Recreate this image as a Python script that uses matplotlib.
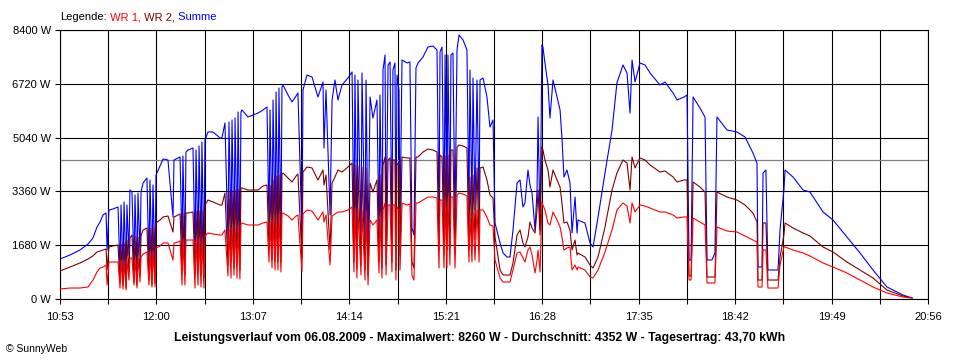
import matplotlib
matplotlib.use("Agg")
import matplotlib.pyplot as plt
from matplotlib.ticker import FixedLocator, FuncFormatter

plt.rcParams['font.family'] = ['Liberation Sans', 'DejaVu Sans']

# Zeit in Minuten nach 10:53 (Messzeitpunkte)
minuten = [
    0, 6.9, 13.9, 19.5, 22.9, 25.7, 27.8, 29.9, 32.0, 32.7, 34.0, 36.8, 40.3, 41.7, 42.4, 43.8,
    44.5, 45.9, 46.5, 47.9, 48.6, 50.0, 51.4, 52.1, 53.5, 54.2, 55.6, 56.3, 57.7, 60.4, 61.8, 62.5,
    63.9, 64.6, 66.0, 66.7, 69.5, 71.6, 75.0, 78.5, 79.2, 82.0, 83.4, 84.8, 85.4, 86.8, 87.5, 88.9,
    92.4, 93.8, 94.5, 95.9, 96.6, 98.0, 98.6, 100.0, 100.7, 102.8, 106.3, 111.2, 112.5, 114.6, 116.7,
    117.4, 118.8, 119.5, 120.9, 121.6, 123.0, 123.7, 125.0, 125.7, 126.4, 130.6, 134.1, 137.6, 141.0,
    143.8, 145.2, 145.9, 147.3, 148.0, 149.4, 150.1, 151.4, 152.1, 153.5, 154.2, 154.9, 158.4, 161.2,
    164.0, 165.3, 168.1, 168.8, 171.6, 175.1, 179.2, 182.7, 183.4, 184.8, 187.6, 189.0, 191.0, 193.1,
    195.9, 200.1, 202.9, 204.2, 204.9, 206.3, 207.0, 209.1, 209.8, 211.9, 212.6, 214.0, 215.4, 217.4,
    220.2, 221.6, 222.3, 223.7, 224.4, 225.8, 226.5, 227.9, 229.3, 230.6, 231.3, 232.7, 233.4, 234.1,
    235.5, 236.2, 237.6, 241.1, 243.1, 244.5, 245.9, 247.3, 248.7, 252.2, 255.6, 259.1, 261.9, 263.3,
    264.0, 265.4, 266.8, 267.5, 268.8, 269.5, 270.9, 271.6, 273.0, 274.4, 275.8, 277.2, 280.0, 282.7,
    284.1, 284.8, 286.2, 286.9, 288.3, 289.7, 291.1, 291.8, 293.9, 296.6, 298.7, 300.8, 302.2, 305.7,
    307.8, 310.5, 312.6, 314.7, 317.5, 319.6, 321.6, 323.0, 325.1, 326.5, 327.9, 330.0, 331.4, 332.1,
    333.5, 334.8, 335.5, 336.9, 339.0, 340.4, 342.5, 345.3, 347.4, 348.7, 350.1, 352.2, 354.3, 355.7,
    357.8, 359.2, 359.8, 364.7, 368.2, 370.3, 373.8, 378.6, 383.5, 386.9, 391.1, 393.9, 396.0, 397.4,
    399.5, 402.9, 406.4, 409.9, 416.8, 420.3, 425.9, 428.7, 433.5, 435.6, 437.0, 438.4, 439.8, 444.6,
    448.1, 449.5, 452.9, 455.0, 456.4, 463.4, 470.3, 475.9, 481.4, 484.2, 484.9, 487.7, 488.4, 490.4,
    491.8, 498.8, 500.2, 502.9, 503.7, 509.2, 516.2, 521.0, 530.1, 537.0, 546.7, 555.8, 564.8, 574.5,
    585.6, 591.9,
]

# Summe (W)
summe = [
    1249, 1374, 1530, 1717, 1905, 2248, 2404, 2623, 2685, 1530, 2779, 2810, 2873, 843, 2935, 906,
    3029, 812, 2935, 1374, 3404, 3341, 906, 3248, 812, 3310, 1374, 3341, 3622, 3778, 1062, 3716,
    906, 3560, 968, 3872, 4153, 4372, 4341, 2561, 4341, 4403, 4434, 1530, 4465, 1374, 4590, 4653,
    4715, 1374, 4653, 1530, 4778, 1374, 4903, 1155, 4965, 5215, 5215, 5028, 5028, 5496, 1842,
    5527, 1999, 5590, 1530, 5652, 1842, 5839, 1686, 5839, 5902, 5683, 5746, 5808, 5902,
    5996, 2311, 5902, 1999, 6214, 2155, 6464, 1842, 6589, 1999, 6620, 6683, 6370, 6152,
    6339, 6433, 2092, 6526, 6995, 6932, 6308, 6776, 4715, 6526, 2623, 6214, 6839, 6214,
    6683, 6901, 7089, 1842, 6995, 1686, 6839, 1842, 7057, 1686, 6839, 1530, 6308, 5652,
    6214, 1999, 6370, 1842, 7151, 7619, 1842, 7307, 7401, 1999, 7151, 7370, 1686, 6995,
    6526, 2311, 7463, 7370, 7401, 2217, 1999, 7213, 7370, 7557, 7869, 7900, 7776, 2404,
    7713, 7869, 2311, 7619, 2467, 7619, 2623, 7619, 7682, 2467, 7776, 8244, 8088, 7776,
    2779, 7151, 2623, 6901, 2779, 6839, 2623, 6839, 6901, 6308, 5371, 5590, 2373, 1749,
    1436, 1312, 1312, 2155, 3622, 3716, 2873, 2998, 4028, 3560, 3310, 2155, 3404, 5683,
    2155, 7932, 7869, 7370, 6683, 5652, 6839, 6308, 5902, 5028, 3810, 4028, 3622, 2061,
    3185, 2061, 2467, 2373, 1749, 1624, 2561, 3935, 5277, 6745, 7307, 7057, 5808, 7463,
    6776, 7370, 7307, 7057, 6683, 6776, 6433, 6214, 6308, 6370, 1218, 1218, 6308, 5964,
    5683, 1218, 1218, 1436, 5683, 5277, 5215, 5059, 4559, 4247, 999, 999, 3935, 4028,
    906, 906, 2155, 3404, 4028, 3810, 3404, 3341, 2717, 2467, 1936, 1436, 906, 375,
    125, 31,
]

# WR 2 (W)
wr2 = [
    874, 999, 1124, 1249, 1343, 1468, 1499, 1530, 1561, 906, 1624, 1655, 1686, 500, 1717, 437,
    1749, 343, 1842, 843, 1905, 1999, 531, 1967, 437, 1936, 749, 1967, 2155, 2217, 593, 2217,
    437, 2248, 500, 2373, 2467, 2561, 2592, 2092, 2561, 2623, 2654, 906, 2685, 749, 2685, 2685,
    2717, 749, 2748, 843, 2748, 749, 2779, 656, 2935, 3091, 3029, 2935, 2935, 3310, 1062,
    3341, 1218, 3373, 968, 3404, 1155, 3435, 906, 3466, 3466, 3404, 3404, 3404, 3529,
    3560, 1530, 3560, 1218, 3716, 1155, 3841, 1155, 3872, 1155, 3903, 3935, 3778, 3654,
    3841, 3903, 1280, 3966, 4122, 4091, 3716, 4028, 3560, 3872, 1530, 3622, 3810, 4028,
    3966, 4122, 4247, 1155, 4184, 968, 4153, 1062, 4122, 906, 4091, 749, 3622, 3341,
    3716, 1155, 3872, 968, 4184, 4434, 1062, 4341, 4403, 1155, 4341, 4341, 906, 4247,
    4184, 1374, 4434, 4403, 4403, 1155, 968, 4434, 4434, 4590, 4684, 4653, 4590, 1530,
    4497, 4434, 1374, 4465, 1530, 4497, 1593, 4653, 4653, 1468, 4747, 4809, 4778, 4715,
    1530, 3810, 1686, 3872, 1842, 4091, 1686, 4091, 4122, 3716, 3248, 3154, 1936, 906,
    749, 749, 749, 1124, 1999, 2155, 1749, 1624, 1936, 2404, 2217, 2061, 2779, 3404,
    1999, 4747, 4653, 4341, 4028, 3497, 4028, 3716, 3497, 2998, 2373, 2404, 2155, 1530,
    1842, 1374, 1436, 1312, 1062, 968, 1312, 2248, 3404, 3935, 4341, 4247, 3404, 4434,
    4091, 4403, 4341, 4184, 3966, 3997, 3810, 3654, 3716, 3716, 718, 718, 3654, 3497,
    3341, 687, 687, 687, 3341, 3185, 3091, 2935, 2685, 2404, 593, 593, 2373, 2373,
    593, 593, 1312, 1999, 2373, 2217, 2061, 1967, 1624, 1468, 1155, 906, 656, 281,
    94, 31,
]

# WR 1 (W)
wr1 = [
    312, 343, 343, 375, 593, 843, 968, 999, 1062, 437, 1155, 1155, 1155, 343, 1187, 312,
    1187, 281, 1218, 593, 1280, 1280, 437, 1280, 343, 1280, 531, 1312, 1405, 1468, 437, 1468,
    375, 1499, 375, 1593, 1655, 1749, 1749, 1218, 1749, 1780, 1811, 437, 1842, 437, 1842, 1842,
    1842, 343, 1842, 437, 1874, 375, 1905, 343, 1967, 2061, 2030, 1999, 1999, 2155, 718,
    2186, 656, 2217, 749, 2248, 656, 2280, 625, 2342, 2373, 2311, 2311, 2311, 2373,
    2404, 1155, 2404, 968, 2467, 906, 2561, 906, 2623, 843, 2654, 2685, 2592, 2467,
    2592, 2623, 843, 2654, 2779, 2748, 2467, 2717, 2404, 2623, 1062, 2592, 2654, 2717,
    2717, 2779, 2873, 843, 2842, 656, 2810, 749, 2779, 593, 2748, 437, 2467, 2311,
    2467, 812, 2623, 656, 2779, 2998, 749, 2935, 2935, 843, 2935, 2935, 593, 2873,
    2779, 906, 2998, 2935, 2967, 749, 593, 2998, 2998, 3091, 3185, 3185, 3154, 968,
    3091, 3091, 968, 3091, 968, 3123, 1062, 3185, 3185, 968, 3248, 3310, 3279, 3216,
    1155, 2685, 1155, 2717, 1218, 2779, 1155, 2779, 2779, 2561, 2311, 2280, 1218, 656,
    531, 531, 531, 906, 1436, 1468, 1280, 1155, 1530, 1624, 1374, 812, 1218, 1530,
    843, 3029, 2935, 2779, 2373, 2311, 2717, 2467, 2248, 1936, 1530, 1593, 1624, 906,
    1062, 906, 999, 906, 687, 656, 906, 1468, 2155, 2779, 2998, 2904, 2373, 2998,
    2717, 2935, 2904, 2842, 2717, 2717, 2623, 2529, 2561, 2561, 593, 593, 2529, 2404,
    2311, 500, 500, 500, 2248, 2123, 2092, 1967, 1842, 1780, 375, 375, 1530, 1530,
    343, 343, 1062, 1624, 1624, 1530, 1436, 1343, 1124, 999, 812, 593, 375, 187,
    62, 31,
]

durchschnitt = 4352
x_labels = ["10:53", "12:00", "13:07", "14:14", "15:21", "16:28", "17:35", "18:42", "19:49", "20:56"]
y_ticks = [0, 1680, 3360, 5040, 6720, 8400]
titel = ("Leistungsverlauf vom 06.08.2009 - Maximalwert: 8260 W - "
         "Durchschnitt: 4352 W - Tagesertrag: 43,70 kWh")

fig = plt.figure(figsize=(9.6, 3.6), dpi=100)
ax = fig.add_axes([60 / 960, 61 / 360, 868 / 960, 269 / 360])

# Durchschnittslinie, dann Summe, WR 2, WR 1 (rot liegt oben)
ax.axhline(durchschnitt, color="#808080", lw=0.9, zorder=1)
ax.plot(minuten, summe, color="#0000ff", lw=0.8, zorder=3)
ax.plot(minuten, wr2, color="#800000", lw=0.8, zorder=4)
ax.plot(minuten, wr1, color="#ff0000", lw=0.8, zorder=5)

ax.set_xlim(0, 603)
ax.set_ylim(0, 8400)

ax.xaxis.set_major_locator(FixedLocator([67 * i for i in range(len(x_labels))]))
ax.xaxis.set_minor_locator(FixedLocator([33.5 + 67 * i for i in range(len(x_labels) - 1)]))
ax.set_xticklabels(x_labels)
ax.yaxis.set_major_locator(FixedLocator(y_ticks))
ax.yaxis.set_major_formatter(FuncFormatter(lambda v, p: "%d W" % v))

ax.grid(True, which="both", color="black", lw=0.8, zorder=0)
ax.set_axisbelow(True)
ax.tick_params(which="both", direction="out", length=3.6, width=0.8, color="black",
               labelsize=8, pad=3)
ax.tick_params(axis="x", pad=6)
for s in ax.spines.values():
    s.set_linewidth(0.8)
    s.set_color("black")

# Legende als farbiger Text oben links
t = fig.text(60 / 960, 1 - 17 / 360, "Legende:", fontsize=8, va="center", color="black")
t = ax.annotate(" WR 1,", xy=(1, 0), xycoords=t, va="bottom", fontsize=8, color="#ff0000",
                annotation_clip=False)
t = ax.annotate(" WR 2,", xy=(1, 0), xycoords=t, va="bottom", fontsize=8, color="#800000",
                annotation_clip=False)
ax.annotate(" Summe", xy=(1, 0), xycoords=t, va="bottom", fontsize=8, color="#0000ff",
            annotation_clip=False)

fig.text(0.5, 1 - 338 / 360, titel, ha="center", va="center", fontsize=8.8, fontweight="bold")
fig.text(6 / 960, 1 - 349 / 360, "© SunnyWeb", fontsize=7.5, va="center")

fig.savefig("out.png", dpi=100)
